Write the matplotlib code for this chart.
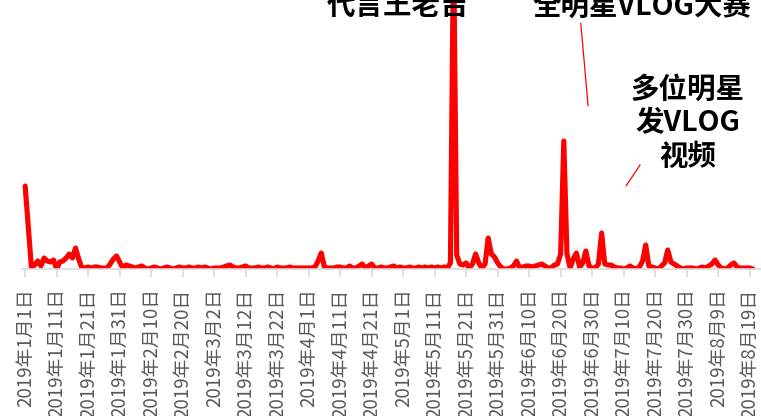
import numpy as np
import pandas as pd
import matplotlib
matplotlib.use("Agg")
import matplotlib.pyplot as plt

plt.rcParams['font.family'] = ['Noto Sans CJK SC', 'DejaVu Sans']

# --- data: daily search index, 2019-01-01 .. 2019-08-20 ---
values = [
    83, 42, 1, 4, 8, 3, 11, 8, 7, 9,
    0, 7, 8, 11, 15, 11, 21, 10, 1, 1,
    2, 1, 2, 2, 1, 1, 1, 5, 10, 13,
    7, 1, 4, 3, 2, 1, 2, 3, 1, 0,
    1, 2, 1, 0, 1, 2, 1, 0, 1, 2,
    1, 1, 2, 1, 1, 2, 1, 2, 1, 0,
    1, 1, 1, 2, 3, 4, 2, 1, 1, 2,
    3, 1, 1, 1, 2, 1, 1, 2, 1, 0,
    2, 1, 1, 1, 2, 1, 1, 1, 1, 1,
    1, 1, 2, 8, 16, 2, 1, 1, 1, 2,
    2, 1, 1, 3, 1, 1, 3, 5, 1, 3,
    5, 1, 1, 2, 1, 1, 2, 3, 1, 2,
    1, 1, 2, 1, 1, 2, 1, 2, 1, 2,
    1, 2, 1, 2, 1, 6, 330, 14, 5, 4,
    6, 1, 5, 15, 6, 1, 5, 31, 15, 12,
    6, 2, 0, 0, 1, 3, 8, 1, 2, 3,
    3, 2, 3, 4, 5, 3, 1, 1, 4, 5,
    15, 128, 15, 1, 10, 16, 2, 6, 18, 3,
    1, 1, 5, 36, 5, 4, 4, 2, 1, 1,
    0, 1, 3, 1, 0, 2, 8, 24, 3, 2,
    1, 0, 3, 6, 19, 7, 5, 3, 1, 0,
    1, 1, 1, 0, 1, 2, 1, 3, 5, 9,
    4, 1, 0, 1, 4, 6, 2, 1, 1, 1,
    1, 0,
]
dates = pd.date_range("2019-01-01", periods=len(values), freq="D")
tick_idx = list(range(0, len(values), 10))
tick_labels = [f"{d.year}年{d.month}月{d.day}日" for d in dates[tick_idx]]

# annotations: text, (x index, y value)
notes = [
    ("代言王老吉", (118.4, 263)),
    ("全明星VLOG大赛", (195.8, 262)),
    ("多位明星\n发VLOG\n视频", (210.3, 146)),
]
leaders = [
    ((176.4, 245.7), (178.7, 163.3)),
    ((195.2, 104.0), (190.8, 83.3)),
]

fig = plt.figure(figsize=(7.61, 4.16), dpi=100)
ax = fig.add_axes([22 / 761, 1 - 269 / 416, 739 / 761, 269 / 416])

x = np.arange(len(values))
ax.plot(x, values, color='#ff0000', linewidth=3.7, solid_joinstyle='round',
        solid_capstyle='round')

ax.set_xlim(-1, 233.6)
ax.set_ylim(0, 269)

for s in ['top', 'right', 'left']:
    ax.spines[s].set_visible(False)
ax.spines['bottom'].set_color('#d9d9d9')
ax.spines['bottom'].set_linewidth(1.2)
ax.set_yticks([])
ax.set_xticks(tick_idx)
ax.set_xticklabels(tick_labels, rotation=90, fontsize=13.5, color='#595959')
ax.tick_params(axis='x', length=6, width=1.2, color='#d9d9d9', pad=8)

for txt, (tx, ty) in notes:
    ax.text(tx, ty, txt, ha='center', va='center', fontsize=20.5,
            fontweight='bold', color='black', linespacing=1.25, clip_on=False)

for (x0, y0), (x1, y1) in leaders:
    ax.plot([x0, x1], [y0, y1], color='#ff0000', linewidth=0.9)

fig.savefig("out.png", dpi=100)
